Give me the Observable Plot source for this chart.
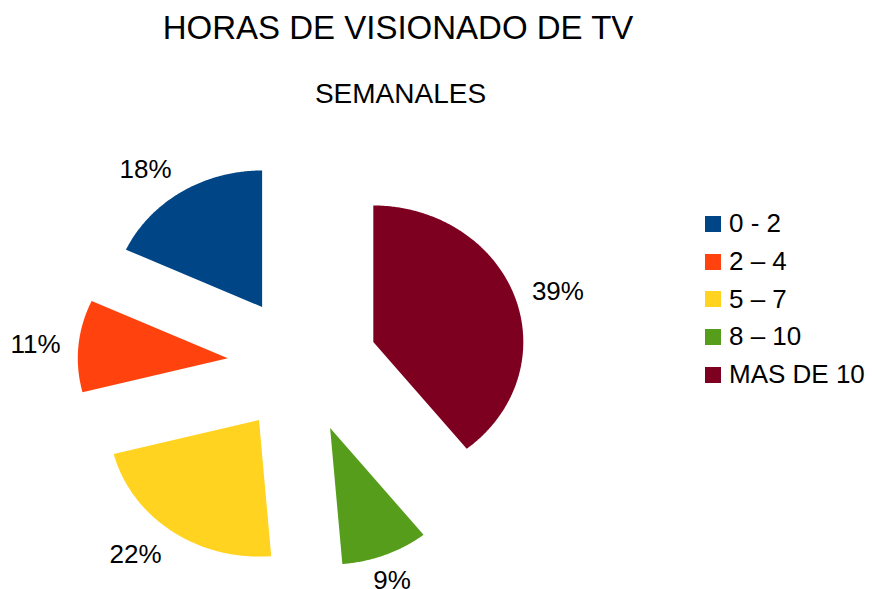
<!DOCTYPE html>
<html>
<head>
<meta charset="utf-8">
<script src="https://cdn.jsdelivr.net/npm/d3@7"></script>
<script src="https://cdn.jsdelivr.net/npm/@observablehq/plot@0.6"></script>
<style>
  html, body { margin: 0; padding: 0; background: #ffffff; }
  #wrap { position: relative; width: 872px; height: 589px; overflow: hidden;
          font-family: "Liberation Sans", Arial, sans-serif; color: #000; }
  #title { position: absolute; left: 0; width: 796px; top: 11px; text-align: center;
           font-size: 33px; line-height: 33px; white-space: nowrap; }
  #subtitle { position: absolute; left: 0; width: 801px; top: 80px; text-align: center;
              font-size: 28px; line-height: 28px; white-space: nowrap; }
  #chart { position: absolute; left: 0; top: 115px; }
  #legend { position: absolute; left: 705px; top: 205px; }
  .row { display: flex; align-items: center; height: 37.7px; font-size: 26px; white-space: nowrap; }
  .sw { width: 16px; height: 16px; margin-right: 8px; flex: none; }
</style>
</head>
<body>
<div id="wrap">
  <div id="title"></div>
  <div id="subtitle"></div>
  <div id="chart"></div>
  <div id="legend"></div>
</div>
<script>
// ---- data ----
const titleText = "HORAS DE VISIONADO DE TV";
const subtitleText = "SEMANALES";
const categories = ["0 - 2", "2 \u2013 4", "5 \u2013 7", "8 \u2013 10", "MAS DE 10"];
const shares = [18.1, 10.9, 22.3, 9.4, 39.3];
const colors = ["#004586", "#ff420e", "#ffd320", "#579d1c", "#7e0021"];

// ---- geometry derived from data ----
const explode = 0.5;      // radial offset of each slice (fraction of radius)
const labelR = 1.62;      // label anchor distance (fraction of radius)
const total = d3.sum(shares);
const slicePts = [];
const labelData = [];
let cum = 0;
shares.forEach((v, i) => {
  const a0 = -cum / total * 2 * Math.PI;
  const a1 = -(cum + v) / total * 2 * Math.PI;
  cum += v;
  const mid = (a0 + a1) / 2;
  const ox = explode * Math.sin(mid), oy = -explode * Math.cos(mid);
  const cat = categories[i];
  slicePts.push({cat, x: ox, y: oy});
  const n = Math.max(2, Math.ceil(Math.abs(a1 - a0) / (Math.PI / 360)));
  for (let k = 0; k <= n; k++) {
    const t = a0 + (a1 - a0) * k / n;
    slicePts.push({cat, x: ox + Math.sin(t), y: oy - Math.cos(t)});
  }
  slicePts.push({cat, x: ox, y: oy});
  const s = Math.sin(mid), c = -Math.cos(mid);
  labelData.push({
    cat,
    text: Math.round(v / total * 100) + "%",
    x: labelR * s,
    y: labelR * c,
    ta: s > 0.4 ? "start" : s < -0.4 ? "end" : "middle",
    la: c > 0.4 ? "top" : c < -0.4 ? "bottom" : "middle"
  });
});

const W = 872, H = 474;
const cx = 302, cy = 249, rx = 150, ry = 136.5;

const textMarks = [];
for (const ta of ["start", "middle", "end"]) {
  for (const la of ["top", "middle", "bottom"]) {
    const sub = labelData.filter(d => d.ta === ta && d.la === la);
    if (sub.length) {
      textMarks.push(Plot.text(sub, {
        x: "x", y: "y", text: "text", textAnchor: ta, lineAnchor: la,
        fontSize: 26, fill: "#000", fontFamily: "Liberation Sans, Arial, sans-serif"
      }));
    }
  }
}

const plot = Plot.plot({
  width: W,
  height: H,
  margin: 0,
  style: {background: "#ffffff", fontFamily: "Liberation Sans, Arial, sans-serif"},
  x: {domain: [-cx / rx, (W - cx) / rx], range: [0, W], axis: null},
  y: {domain: [-cy / ry, (H - cy) / ry], range: [0, H], axis: null},
  color: {domain: categories, range: colors},
  marks: [
    Plot.line(slicePts, {x: "x", y: "y", z: "cat", fill: "cat", stroke: "none", curve: "linear"}),
    ...textMarks
  ]
});
document.getElementById("chart").appendChild(plot);

document.getElementById("title").textContent = titleText;
document.getElementById("subtitle").textContent = subtitleText;

const legend = d3.select("#legend");
categories.forEach((c, i) => {
  const row = legend.append("div").attr("class", "row");
  row.append("div").attr("class", "sw").style("background", colors[i]);
  row.append("span").text(c);
});
</script>
</body>
</html>
